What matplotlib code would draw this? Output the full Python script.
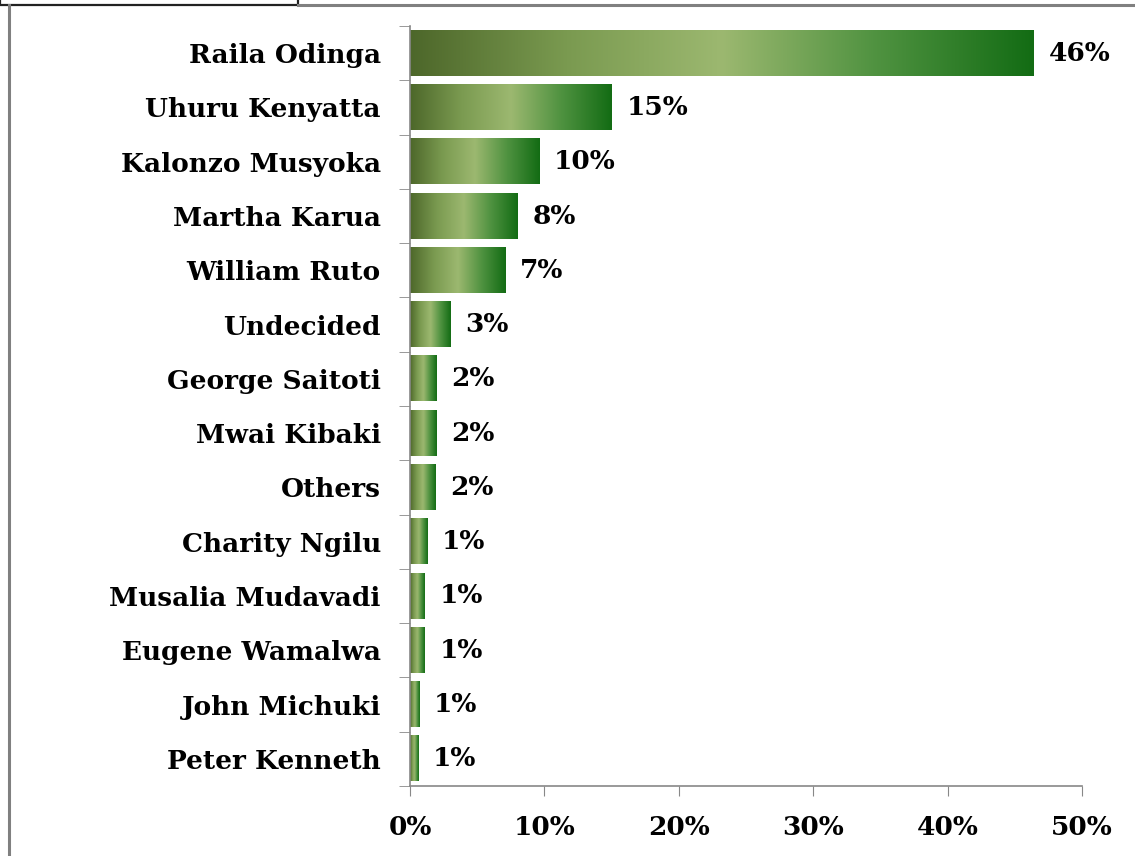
#!/usr/bin/env python3
# -*- coding: utf-8 -*-

import matplotlib
matplotlib.use("Agg")
import matplotlib.pyplot as plt
from matplotlib.colors import LinearSegmentedColormap
from matplotlib.patches import Rectangle
from matplotlib.lines import Line2D
import numpy as np

# data (percent)
candidates = ["Raila Odinga", "Uhuru Kenyatta", "Kalonzo Musyoka", "Martha Karua",
              "William Ruto", "Undecided", "George Saitoti", "Mwai Kibaki",
              "Others", "Charity Ngilu", "Musalia Mudavadi", "Eugene Wamalwa",
              "John Michuki", "Peter Kenneth"]
shares = [46.4, 15.0, 9.6, 8.0, 7.1, 3.0, 2.0, 2.0, 1.9, 1.3, 1.1, 1.1, 0.7, 0.6]
share_labels = ["46%", "15%", "10%", "8%", "7%", "3%", "2%", "2%", "2%",
                "1%", "1%", "1%", "1%", "1%"]
xticks = [0, 10, 20, 30, 40, 50]
xtick_labels = ["0%", "10%", "20%", "30%", "40%", "50%"]

FONT = ["DejaVu Serif"]
FS = 19
grad = LinearSegmentedColormap.from_list(
    "bar", ["#4d672a", "#7a9a50", "#9cb870", "#4f9240", "#136c14"])

fig = plt.figure(figsize=(11.35, 8.56), dpi=100)
ax = fig.add_axes([0.3612, 0.0818, 0.5921, 0.8878])

ypos = np.arange(len(candidates))
bars = ax.barh(ypos, shares, height=0.83, color="none", edgecolor="none")

# gradient fill for each bar
ramp = np.linspace(0, 1, 256).reshape(1, -1)
for b in bars:
    x0, y0 = b.get_x(), b.get_y()
    w, h = b.get_width(), b.get_height()
    ax.imshow(ramp, cmap=grad, aspect="auto", interpolation="bicubic",
              extent=[x0, x0 + w, y0 + h, y0], zorder=2)

for y, v, lab in zip(ypos, shares, share_labels):
    ax.text(v + 1.1, y, lab, va="center", ha="left", fontsize=FS,
            fontweight="bold", family=FONT)

ax.set_xlim(0, 50)
ax.set_ylim(len(candidates) - 0.5, -0.5)

ax.set_xticks(xticks)
ax.set_xticklabels(xtick_labels, fontsize=FS, fontweight="bold", family=FONT)
ax.set_yticks(ypos)
ax.set_yticklabels(candidates, fontsize=FS, fontweight="bold", family=FONT)
ax.set_yticks(np.arange(len(candidates) + 1) - 0.5, minor=True)
ax.tick_params(axis="y", which="major", length=0, pad=21)
ax.tick_params(axis="y", which="minor", length=8, color="#888888", direction="out")
ax.tick_params(axis="x", length=7, color="#888888", pad=14)

for s in ["top", "right"]:
    ax.spines[s].set_visible(False)
for s in ["left", "bottom"]:
    ax.spines[s].set_color("#888888")
    ax.spines[s].set_linewidth(1.2)

# outer frame pieces
W, H = 1135, 856
fig.add_artist(Line2D([9 / W, 9 / W], [0, 1 - 5 / H], color="#808080", lw=2.2))
fig.add_artist(Line2D([298 / W, 1], [1 - 5 / H, 1 - 5 / H], color="#808080", lw=2.2))
fig.add_artist(Rectangle((0, 1 - 5 / H), 298 / W, 10 / H, fill=False,
                         edgecolor="#222222", lw=1.6))

fig.savefig("out.png", dpi=100)
